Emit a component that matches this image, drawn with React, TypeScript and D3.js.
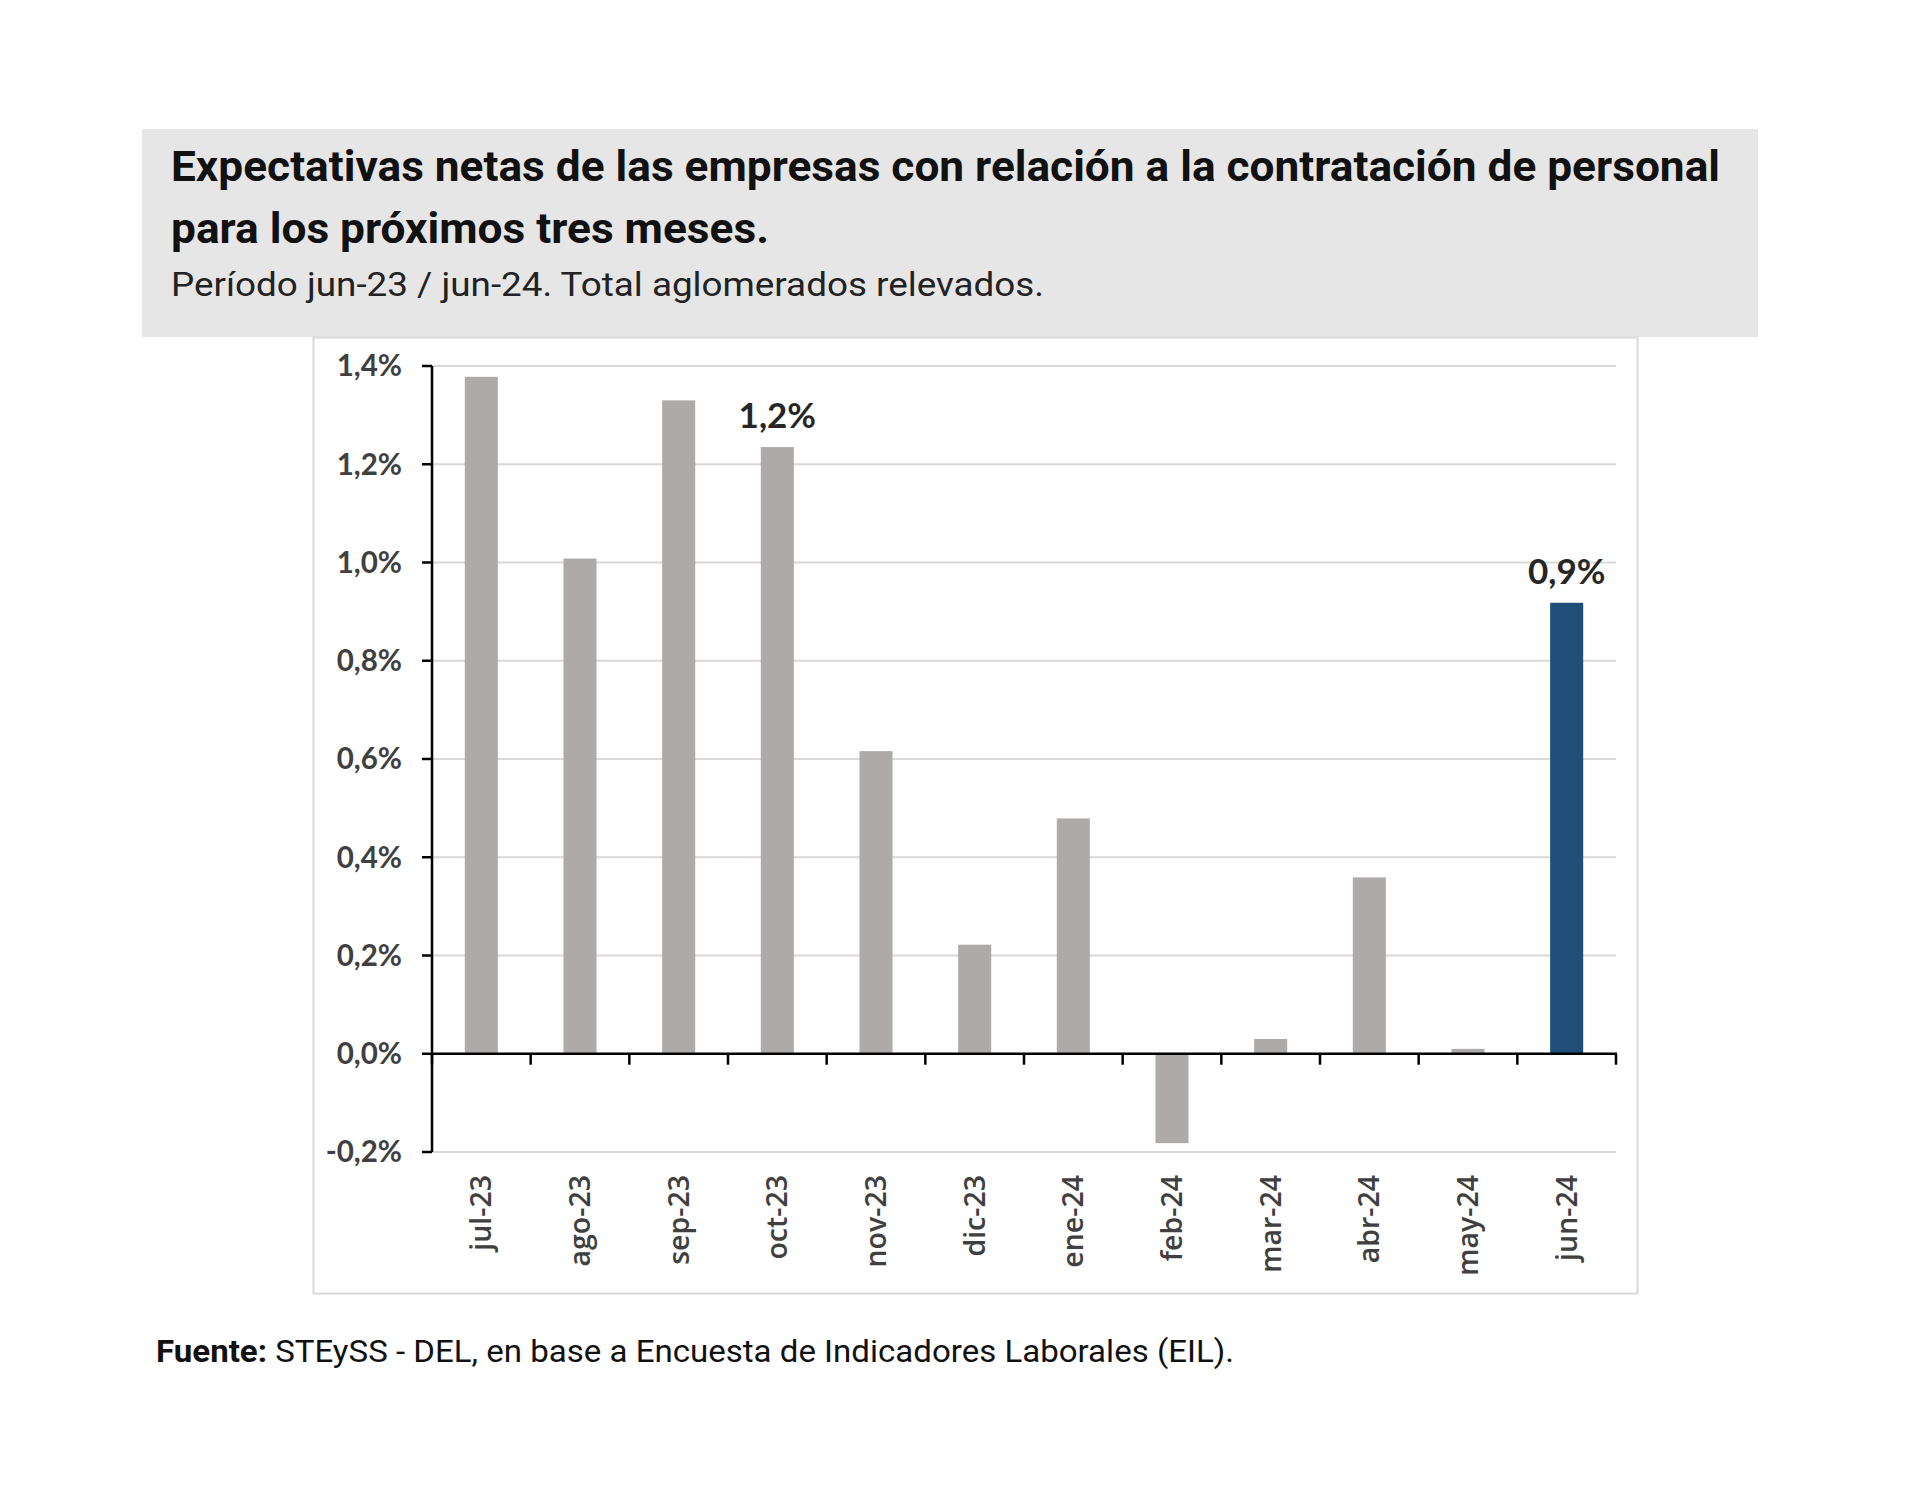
import React from "react";
import * as d3 from "d3";

const months = ["jul-23","ago-23","sep-23","oct-23","nov-23","dic-23","ene-24","feb-24","mar-24","abr-24","may-24","jun-24"];
const values = [1.378, 1.008, 1.33, 1.235, 0.616, 0.222, 0.479, -0.182, 0.03, 0.359, 0.01, 0.918];
const yTicks = [-0.2, 0, 0.2, 0.4, 0.6, 0.8, 1.0, 1.2, 1.4];
const labelled = ["oct-23", "jun-24"];
const highlight = "jun-24";

const fmtPct = (v: number) => (v < 0 ? "-" : "") + Math.abs(v).toFixed(1).replace(".", ",") + "%";

export default function App() {
  const x = d3.scaleBand<string>().domain(months).range([432, 1616]).paddingInner(0.665).paddingOuter(0.3325);
  const y = d3.scaleLinear().domain([-0.2, 1.4]).range([1152, 366]);
  const step = x.step();
  return (
    <svg width={1920} height={1509} style={{ position: "absolute", left: 0, top: 0, background: "#fff" }}>
      <rect x={0} y={0} width={1920} height={1509} fill="#fff" />
      {/* header */}
      <rect x={142} y={129} width={1616} height={208} fill="#e7e6e6" />
      <text x={171} y={181} fontFamily="Roboto" fontWeight={700} fontSize={42} fill="#111" textLength={1549} lengthAdjust="spacingAndGlyphs">
        Expectativas netas de las empresas con relación a la contratación de personal
      </text>
      <text x={171} y={243} fontFamily="Roboto" fontWeight={700} fontSize={42} fill="#111" textLength={598} lengthAdjust="spacingAndGlyphs">
        para los próximos tres meses.
      </text>
      <text x={171} y={296} fontFamily="Roboto" fontWeight={400} fontSize={34} fill="#222" textLength={873} lengthAdjust="spacingAndGlyphs">
        Período jun-23 / jun-24. Total aglomerados relevados.
      </text>
      {/* chart panel */}
      <rect x={313.5} y={337.5} width={1324} height={956} fill="#fff" stroke="#d9d9d9" strokeWidth={2} />
      {/* gridlines */}
      {yTicks.map((t) => (
        <line key={"g" + t} x1={432} x2={1616} y1={y(t)} y2={y(t)} stroke="#d9d9d9" strokeWidth={2} />
      ))}
      {/* bars */}
      {values.map((v, i) => (
        <rect
          key={months[i]}
          x={x(months[i])}
          width={x.bandwidth()}
          y={y(Math.max(0, v))}
          height={Math.abs(y(v) - y(0))}
          fill={months[i] === highlight ? "#1f4e79" : "#aeaaaa"}
        />
      ))}
      {/* data labels */}
      {values.map((v, i) =>
        labelled.includes(months[i]) ? (
          <text key={"l" + i} x={(x(months[i]) as number) + x.bandwidth() / 2} y={y(v) - 19} textAnchor="middle" fontFamily="Lato" fontWeight={700} fontSize={35} fill="#262626">
            {fmtPct(v)}
          </text>
        ) : null
      )}
      {/* y axis */}
      <line x1={432} x2={432} y1={y(1.4)} y2={y(-0.2)} stroke="#000" strokeWidth={2.5} />
      {yTicks.map((t) => (
        <g key={"yt" + t}>
          <line x1={422} x2={432} y1={y(t)} y2={y(t)} stroke="#000" strokeWidth={2.5} />
          <text x={402} y={y(t)} dy="0.35em" textAnchor="end" fontFamily="Lato" fontWeight={700} fontSize={29.5} fill="#404040">
            {fmtPct(t)}
          </text>
        </g>
      ))}
      {/* x axis */}
      <line x1={432} x2={1617} y1={y(0)} y2={y(0)} stroke="#000" strokeWidth={2.5} />
      {d3.range(months.length + 1).map((k) => (
        <line key={"xt" + k} x1={432 + k * step} x2={432 + k * step} y1={y(0)} y2={y(0) + 11} stroke="#000" strokeWidth={2.5} />
      ))}
      {months.map((m) => {
        const cx = (x(m) as number) + x.bandwidth() / 2;
        return (
          <text key={"xl" + m} transform={`translate(${cx},1175) rotate(-90)`} dy="0.35em" textAnchor="end" fontFamily="Open Sans" fontWeight={600} fontSize={28.5} fill="#404040">
            {m}
          </text>
        );
      })}
      {/* footer */}
      <text x={156} y={1362} fontFamily="Roboto" fontSize={31} fill="#111" textLength={1078} lengthAdjust="spacingAndGlyphs">
        <tspan fontWeight={700}>Fuente:</tspan> STEySS - DEL, en base a Encuesta de Indicadores Laborales (EIL).
      </text>
    </svg>
  );
}
